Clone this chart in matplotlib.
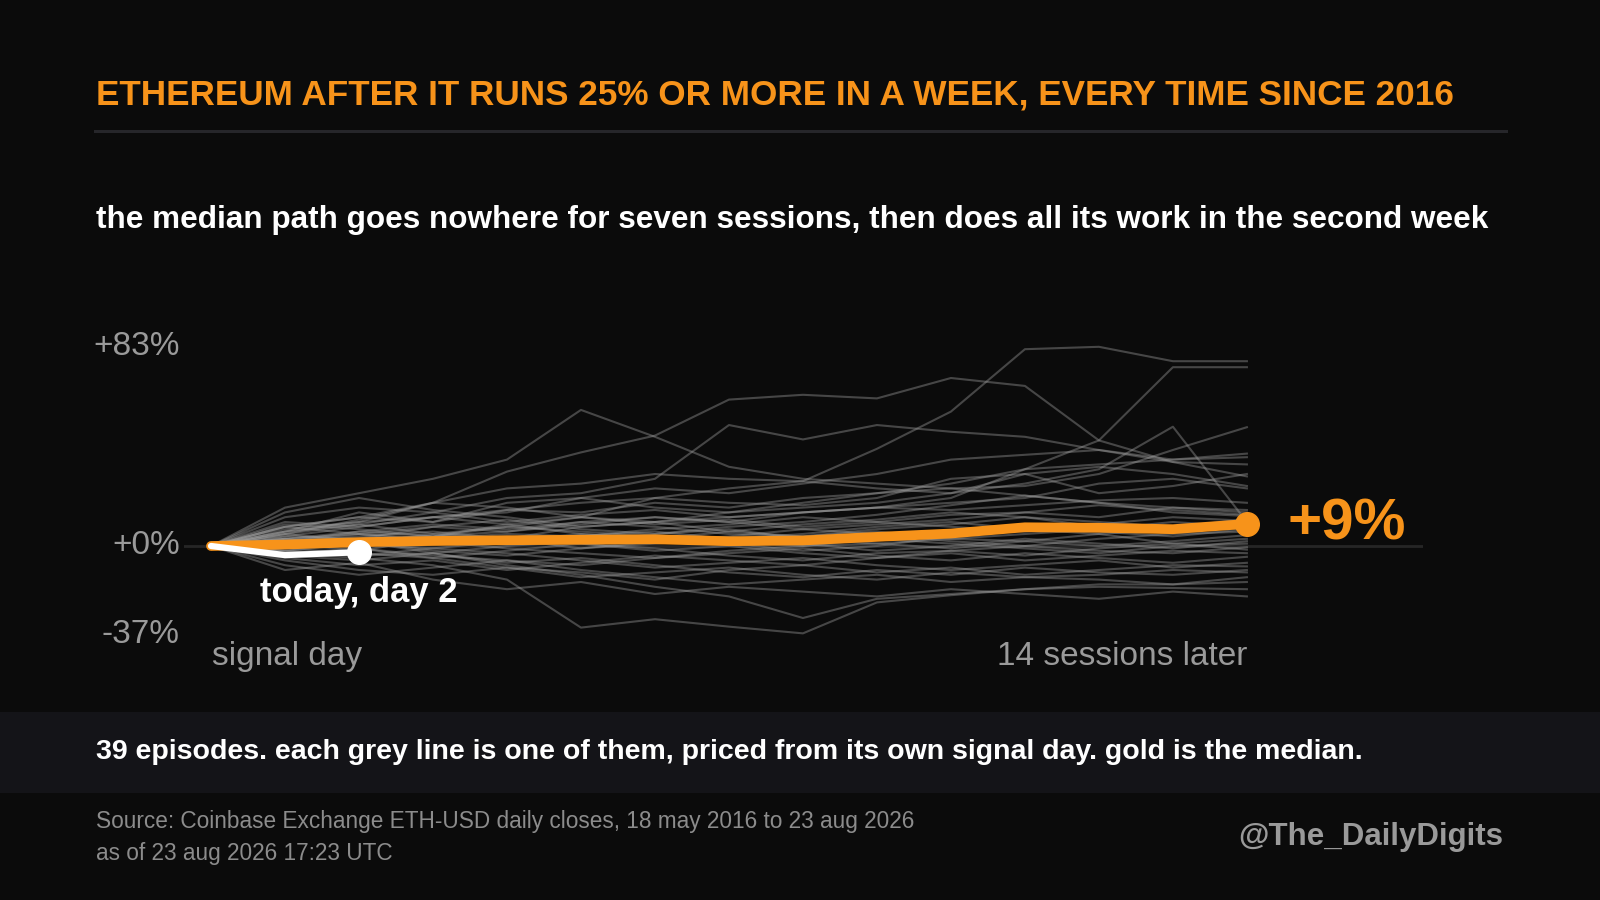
import matplotlib
matplotlib.use("Agg")
import matplotlib.pyplot as plt
from matplotlib.lines import Line2D
from matplotlib.patches import Rectangle

plt.rcParams['font.family'] = ['Liberation Sans', 'DejaVu Sans']

# --- data (percent change from signal day) ---
days = list(range(15))

median_path = [0, 0.6, 1.6, 2.1, 2.4, 2.6, 2.8, 2.0, 2.3, 3.8, 5.2, 7.8, 7.6, 7.0, 9.2]
today_path = [0, -3.8, -2.6]

episodes = [
    [0, 8, 12, 10, 15, 18, 20, 24, 27, 40.5, 56, 82, 83, 77, 77],
    [0, 3, 5, 8, 6, 10, 12, 10, 14, 16, 20, 32, 44, 74.5, 74.5],
    [0, 6, 10, 18, 31, 39, 46, 61, 63, 61.5, 70, 66.7, 44, 35, 29],
    [0, 5, 9, 14, 20, 22, 28, 50.4, 44.4, 50.4, 47.6, 45.5, 40, 36, 37],
    [0, 16, 22, 28, 36, 56.7, 45.5, 33, 28, 26, 24, 21, 18, 16, 14],
    [0, 2, 6, 4, 9, 12, 10, 14, 16, 18, 22, 26, 32, 49.7, 10],
    [0, 4, 8, 12, 15, 14, 18, 16, 20, 22, 24, 25, 30, 40, 49.5],
    [0, 6, 14, 10, 18, 20, 16, 14, 18, 22, 26, 32, 34, 36, 38.5],
    [0, 10, 8, 12, 14, 20, 24, 22, 26, 30, 36, 38, 40, 35, 34],
    [0, 3, 1, 5, 8, 12, 20, 18, 17, 20, 28, 30, 22, 25, 30],
    [0, 8, 12, 18, 24, 26, 30, 28, 27, 24, 22, 30, 33, 30, 25],
    [0, 2, 4, 6, 3, 8, 10, 12, 14, 16, 18, 20, 26, 28, 24],
    [0, 12, 16, 14, 10, 13, 15, 12, 14, 16, 15, 17, 19, 20, 18],
    [0, 5, 11, 18, 16, 12, 9, 11, 8, 10, 13, 14, 12, 16, 15],
    [0, 9, 7, 4, 6, 9, 12, 10, 7, 9, 11, 14, 17, 15, 13],
    [0, 4, 3, 8, 11, 7, 5, 8, 10, 13, 17, 21, 18, 14, 12.5],
    [0, 14, 20, 15, 12, 8, 10, 6, 4, 7, 9, 12, 10, 8, 11],
    [0, 1, -2, 3, 5, 4, 7, 9, 12, 10, 8, 6, 9, 12, 10.5],
    [0, 7, 10, 12, 9, 5, 3, 6, 9, 11, 14, 12, 8, 6, 9.5],
    [0, 2, 5, 3, 1, 4, 6, 3, 5, 8, 10, 7, 5, 7, 9],
    [0, 3, 6, 9, 7, 10, 8, 5, 4, 6, 3, 5, 7, 10, 8],
    [0, -2, 1, -1, 2, 5, 3, 1, -2, 0, 4, 8, 6, 4, 7],
    [0, 6, 9, 5, 3, -1, 2, 4, 7, 5, 2, 0, 3, 5, 6],
    [0, 1, 3, 4, 8, 6, 4, 2, 0, 1, 3, 2, 0, 2, 4.5],
    [0, -4, -6, -3, 0, 2, 5, 7, 3, 1, -1, 2, 5, 1, 3],
    [0, 5, 2, -2, -4, -1, 1, 3, 1, -2, 0, 3, 1, -1, 2],
    [0, 2, 0, 2, -1, -3, -5, -2, 0, 3, 1, -1, -3, 0, 1],
    [0, -1, -3, -5, -2, 1, -1, -4, -6, -3, -2, 0, -2, -3, -0.5],
    [0, 8, 5, 2, 4, 1, -2, 0, -3, -5, -2, -4, -1, 1, -1.5],
    [0, -5, -8, -6, -10, -7, -4, -6, -8, -5, -3, -6, -4, -2, -3],
    [0, 3, -1, -4, -6, -8, -5, -3, -1, -4, -6, -3, -5, -7, -4.5],
    [0, -2, -4, -1, -3, -6, -9, -7, -5, -8, -10, -8, -6, -9, -7],
    [0, -6, -10, -12, -9, -11, -14, -10, -8, -11, -9, -12, -10, -8, -8.5],
    [0, 0, 2, -3, -7, -5, -8, -11, -13, -10, -12, -9, -11, -12, -10],
    [0, -3, -1, -5, -9, -13, -11, -9, -12, -14, -11, -13, -12, -10, -11],
    [0, -8, -12, -9, -6, -10, -13, -16, -14, -12, -15, -13, -14, -16, -13],
    [0, -10, -7, -14, -18, -15, -20, -17, -19, -21, -18, -20, -22, -19, -21],
    [0, -3, -5, -8, -14, -34, -30.5, -33.6, -36.4, -23.5, -20.5, -18, -17, -17.5, -18],
    [0, -2, -4, -3, -8, -12, -17, -21, -30, -22, -20, -18, -16, -16, -15],
]

y_labels = [83, 0, -37]
y_label_text = ['+83%', '+0%', '-37%']

BG = '#0b0b0b'
ORANGE = '#f7931a'
GREY_TXT = '#9a9a9a'

W, H = 1600, 900
def fx(px):
    return px / W
def fy(py):
    return 1 - py / H

fig = plt.figure(figsize=(16, 9), dpi=100, facecolor=BG)

# footer band
fig.patches.append(Rectangle((0, fy(793)), 1, (793 - 712) / H, transform=fig.transFigure,
                             facecolor='#141418', edgecolor='none', zorder=0))
# rule under the title
fig.add_artist(Line2D([fx(95), fx(1506)], [fy(131), fy(131)], color='#26262a', lw=2.2))

fig.text(fx(96), fy(104), 'ETHEREUM AFTER IT RUNS 25% OR MORE IN A WEEK, EVERY TIME SINCE 2016',
         color=ORANGE, fontsize=25.3, fontweight='bold', va='baseline', ha='left')
fig.text(fx(96), fy(228), 'the median path goes nowhere for seven sessions, then does all its work in the second week',
         color='white', fontsize=22.7, fontweight='bold', va='baseline', ha='left')
fig.text(fx(96), fy(759), '39 episodes. each grey line is one of them, priced from its own signal day. gold is the median.',
         color='white', fontsize=20.5, fontweight='bold', va='baseline', ha='left')
fig.text(fx(96), fy(828), 'Source: Coinbase Exchange ETH-USD daily closes, 18 may 2016 to 23 aug 2026',
         color='#8c8c8c', fontsize=16.3, va='baseline', ha='left')
fig.text(fx(96), fy(860), 'as of 23 aug 2026 17:23 UTC',
         color='#8c8c8c', fontsize=16.3, va='baseline', ha='left')
fig.text(fx(1503), fy(845), '@The_DailyDigits',
         color=GREY_TXT, fontsize=22.5, fontweight='bold', va='baseline', ha='right')

# chart axes: day 0 at x=211px, day 14 at x=1247px; 0% at y=546px, 2.4 px per %
ax = fig.add_axes([fx(184), fy(642), (1423 - 184) / W, (642 - 339.6) / H])
ax.set_facecolor('none')
ax.set_xlim(-0.365, 16.38)
ax.set_ylim(-40, 86)
ax.axis('off')

ax.axhline(0, color='#262626', lw=2, zorder=1)

for ep in episodes:
    ax.plot(days, ep, color='#a0a0a0', alpha=0.4, lw=1.5, zorder=2)

ax.plot(days, median_path, color=ORANGE, lw=7, solid_capstyle='round', solid_joinstyle='round', zorder=4)
ax.plot(days[-1], median_path[-1], 'o', color=ORANGE, ms=17, zorder=5)

ax.plot(days[:len(today_path)], today_path, color='white', lw=4.5, solid_capstyle='round',
        solid_joinstyle='round', zorder=6)
ax.plot(days[len(today_path) - 1], today_path[-1], 'o', color='white', ms=17, zorder=7)

for v, t in zip(y_labels, y_label_text):
    ax.text(-0.42, v, t, color=GREY_TXT, fontsize=24, ha='right', va='center', clip_on=False)

ax.text(0.01, -49.6, 'signal day', color=GREY_TXT, fontsize=24, ha='left', va='baseline', clip_on=False)
ax.text(14, -49.6, '14 sessions later', color=GREY_TXT, fontsize=24, ha='right', va='baseline', clip_on=False)
ax.text(2, -23.3, 'today, day 2', color='white', fontsize=24.9, fontweight='bold', ha='center', va='baseline')
ax.text(14.55, 2.6, '+%d%%' % round(median_path[-1]), color=ORANGE, fontsize=42, fontweight='bold',
        ha='left', va='baseline')

fig.savefig('out.png', dpi=100, facecolor=BG)
